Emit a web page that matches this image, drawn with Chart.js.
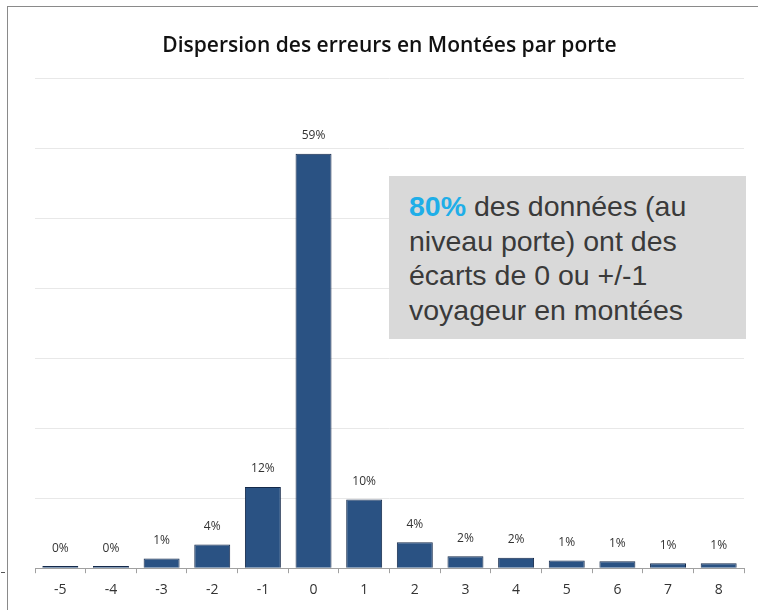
<!DOCTYPE html>
<html>
<head>
<meta charset="utf-8">
<script src="https://cdn.jsdelivr.net/npm/chart.js@4.4.1/dist/chart.umd.min.js"></script>
<style>
  html, body { margin: 0; padding: 0; background: #ffffff; }
  #wrap { position: relative; width: 758px; height: 610px; overflow: hidden; }
  #frame { position: absolute; left: 7px; top: 6px; width: 800px; height: 700px; border-left: 1px solid #8a8a8a; border-top: 1px solid #8a8a8a; pointer-events: none; }
  #chart { position: absolute; left: 0; top: 0; }
  #note { position: absolute; left: 389px; top: 176px; width: 357px; height: 163px; background: #d9d9d9;
          font-family: "Liberation Sans", Arial, sans-serif; font-size: 28.5px; line-height: 34.5px; color: #3a3a3a;
          box-sizing: border-box; padding: 13px 0 0 20px; white-space: nowrap; }
  #note b { color: #1faee8; }
  #dash { position: absolute; left: 1px; top: 572px; width: 4px; height: 1px; background: #555; }
</style>
</head>
<body>
<div id="wrap">
  <canvas id="chart" width="758" height="610"></canvas>
  <div id="frame"></div>
  <div id="dash"></div>
  <div id="note"><b>80%</b> des données (au<br>niveau porte) ont des<br>écarts de 0 ou +/-1<br>voyageur en montées</div>
</div>
<script>
const categories = ["-5", "-4", "-3", "-2", "-1", "0", "1", "2", "3", "4", "5", "6", "7", "8"];
const shares = [0.3, 0.3, 1.4, 3.4, 11.6, 59.2, 9.8, 3.7, 1.7, 1.5, 1.1, 1.0, 0.7, 0.7];
const shareLabels = ["0%", "0%", "1%", "4%", "12%", "59%", "10%", "4%", "2%", "2%", "1%", "1%", "1%", "1%"];
const titleText = "Dispersion des erreurs en Montées par porte";

const labelPlugin = {
  id: "barLabels",
  afterDatasetsDraw(chart) {
    const ctx = chart.ctx;
    const meta = chart.getDatasetMeta(0);
    ctx.save();
    ctx.font = "12px 'Open Sans', sans-serif";
    ctx.fillStyle = "#333333";
    ctx.textAlign = "center";
    ctx.textBaseline = "middle";
    meta.data.forEach((bar, i) => {
      ctx.fillText(shareLabels[i], bar.x, bar.y - 18);
    });
    ctx.restore();
  }
};

new Chart(document.getElementById("chart"), {
  type: "bar",
  data: {
    labels: categories,
    datasets: [{
      data: shares,
      backgroundColor: "#2a5283",
      borderColor: "#14294a",
      borderWidth: 1,
      barPercentage: 0.71,
      categoryPercentage: 1.0
    }]
  },
  options: {
    responsive: false,
    animation: false,
    layout: { padding: { left: 35, right: 14, top: 0, bottom: 4 } },
    plugins: {
      legend: { display: false },
      tooltip: { enabled: false },
      title: {
        display: true,
        text: titleText,
        color: "#111111",
        font: { family: "'Open Sans', sans-serif", size: 21, weight: "600" },
        padding: { top: 33, bottom: 20 }
      }
    },
    scales: {
      y: {
        min: 0, max: 70,
        ticks: { display: false, stepSize: 10 },
        grid: { color: "#e8e8e8", drawTicks: false, lineWidth: 1 },
        border: { display: false }
      },
      x: {
        grid: { display: true, drawOnChartArea: false, drawTicks: true, tickLength: 5, color: "#a0a0a0", offset: true },
        border: { display: true, color: "#a0a0a0" },
        ticks: { color: "#333333", padding: 8, font: { family: "'Open Sans', sans-serif", size: 14 } }
      }
    }
  },
  plugins: [labelPlugin]
});
</script>
</body>
</html>
